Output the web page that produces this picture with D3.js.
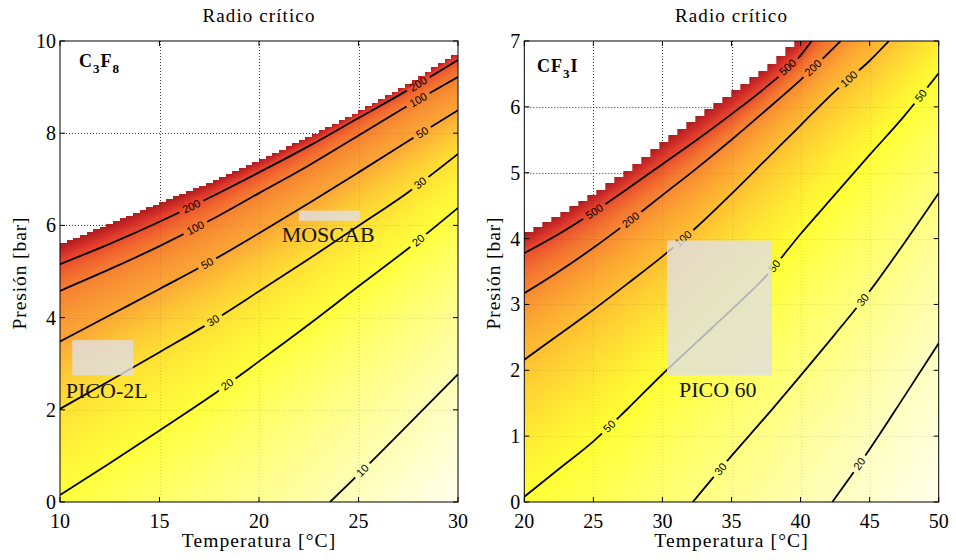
<!DOCTYPE html>
<html><head><meta charset="utf-8">
<script src="https://cdn.jsdelivr.net/npm/d3@7"></script>
<style>body{margin:0;background:#fff}svg{display:block}</style>
</head><body>
<svg id="chart" width="956" height="560"></svg>
<script>
// ---------------- DATA ----------------
const titleText = "Radio crítico";
const xLabelText = "Temperatura [°C]";
const yLabelText = "Presión [bar]";

// C3F8 panel
const c3f8XTicks = [10, 15, 20, 25, 30];
const c3f8YTicks = [0, 2, 4, 6, 8, 10];
const c3f8Levels = [10, 20, 30, 50, 100, 200];
const c3f8Contours = [
  [[23.57,0],[25,0.6],[27.5,1.68],[30,2.77]],
  [[10,0.15],[12.5,0.84],[15,1.55],[17.5,2.27],[20,3.05],[22.5,3.85],[25,4.68],[27.5,5.5],[30,6.38]],
  [[10,2.02],[12.5,2.63],[15,3.25],[17.5,3.88],[20,4.57],[22.5,5.27],[25,5.99],[27.5,6.72],[30,7.55]],
  [[10,3.48],[12.5,4.05],[15,4.62],[17.5,5.2],[20,5.83],[22.5,6.48],[25,7.15],[27.5,7.83],[30,8.5]],
  [[10,4.58],[12.5,5.05],[15,5.55],[17.5,6.1],[20,6.7],[22.5,7.3],[25,7.95],[27.5,8.6],[30,9.22]],
  [[10,5.16],[12.5,5.6],[15,6.08],[17.5,6.6],[20,7.15],[22.5,7.72],[25,8.33],[27.5,8.94],[30,9.59]]
];
const c3f8Boundary = [[10,5.62],[12.5,6.06],[15,6.51],[17.5,6.95],[20,7.44],[22.5,7.95],[25,8.5],[27.5,9.1],[30,9.8]];
const c3f8LabelLevels = [10, 20, 20, 30, 30, 50, 50, 100, 100, 200, 200];
const c3f8LabelT      = [25.2, 18.4, 28.0, 17.7, 28.1, 17.4, 28.2, 16.8, 28.0, 16.6, 28.0];
const c3f8ColorVals = [7, 10, 20, 30, 50, 100, 200, 400, 1000];
const c3f8Colors = ['#fffff2','#ffffb4','#ffff3c','#ffe034','#fba636','#f67e30','#ea4a2c','#d22c28','#b42020'];
const c3f8BoxNames = ['PICO-2L', 'MOSCAB'];
const c3f8BoxT = [[10.62, 13.68], [22.0, 25.08]];
const c3f8BoxP = [[2.75, 3.51], [6.1, 6.32]];
const c3f8BoxLabelAt = [[10.29, 2.26], [21.14, 5.65]];

// CF3I panel
const cf3iXTicks = [20, 25, 30, 35, 40, 45, 50];
const cf3iYTicks = [0, 1, 2, 3, 4, 5, 6, 7];
const cf3iLevels = [20, 30, 50, 100, 200, 500];
const cf3iContours = [
  [[42.3,0],[45,0.8],[47.5,1.6],[50,2.41]],
  [[32.2,0],[35,0.7],[37.5,1.3],[40,1.92],[42.5,2.55],[45,3.2],[47.5,3.93],[50,4.69]],
  [[20,0.08],[22.5,0.5],[25,0.92],[27.5,1.42],[30,1.94],[32.5,2.43],[35,2.92],[37.5,3.43],[40,4.07],[42.5,4.67],[45,5.27],[47.5,5.86],[50,6.51]],
  [[20,2.16],[22.5,2.54],[25,2.92],[27.5,3.32],[30,3.73],[32.5,4.18],[35,4.68],[37.5,5.2],[40,5.72],[42.5,6.24],[45,6.7],[46.4,7.0]],
  [[20,3.17],[22.5,3.5],[25,3.86],[27.5,4.25],[30,4.66],[32.5,5.07],[35,5.5],[37.5,5.95],[40,6.41],[42.9,7.0]],
  [[20,3.78],[22.5,4.07],[25,4.4],[27.5,4.76],[30,5.13],[32.5,5.5],[35,5.89],[37.5,6.3],[40,6.78],[40.8,7.0]]
];
const cf3iBoundary = [[20,4.1],[22.5,4.39],[25,4.71],[27.5,5.08],[30,5.5],[32.5,5.88],[35,6.25],[37.5,6.63],[39.4,7.0]];
const cf3iLabelLevels = [20, 30, 30, 50, 50, 50, 100, 100, 200, 200, 500, 500];
const cf3iLabelT      = [44.26, 34.2, 44.5, 26.15, 38.1, 48.7, 31.5, 43.5, 27.7, 40.9, 25.07, 39.07];
const cf3iColorVals = [14, 20, 30, 50, 100, 200, 500, 1000, 3000];
const cf3iColors = ['#fffff2','#ffffc0','#ffff80','#ffff34','#ffbe32','#f88832','#e84a2c','#d02c28','#b02020'];
const cf3iBoxNames = ['PICO 60'];
const cf3iBoxT = [[30.33, 37.93]];
const cf3iBoxP = [[1.92, 3.97]];
const cf3iBoxLabelAt = [[31.2, 1.59]];

// ---------------- RENDER ----------------
const SERIF = "'Liberation Serif','Times New Roman',serif";
const SANS = "'Liberation Sans','DejaVu Sans',Arial,sans-serif";
const svg = d3.select('#chart');
svg.append('rect').attr('width', 956).attr('height', 560).attr('fill', '#fff');
const defs = svg.append('defs');

function interpLine(pts, t) {
  const n = pts.length;
  let a, b;
  if (t <= pts[0][0]) { a = pts[0]; b = pts[1]; }
  else if (t >= pts[n-1][0]) { a = pts[n-2]; b = pts[n-1]; }
  else { for (let i = 1; i < n; i++) if (t <= pts[i][0]) { a = pts[i-1]; b = pts[i]; break; } }
  return a[1] + (t - a[0]) * (b[1] - a[1]) / (b[0] - a[0]);
}
function valueAt(d, list) {
  const n = list.length;
  if (d >= list[0][1]) return list[0][0] * list[0][1] / d;
  if (d <= list[n-1][1]) return list[n-1][0] * list[n-1][1] / d;
  for (let k = 0; k < n - 1; k++) {
    const [La, da] = list[k], [Lb, db] = list[k+1];
    if (d <= da && d >= db) {
      const f = Math.log(d / da) / Math.log(db / da);
      return Math.exp(Math.log(La) + f * Math.log(Lb / La));
    }
  }
  return list[n-1][0];
}

const panels = [
  { id: 'a', xDom: [10, 30], yDom: [0, 10], xr: [60, 458], yr: [502, 41], nCols: 60,
    xTicks: c3f8XTicks, yTicks: c3f8YTicks, levels: c3f8Levels, contours: c3f8Contours, boundary: c3f8Boundary,
    labLev: c3f8LabelLevels, labT: c3f8LabelT, cVals: c3f8ColorVals, cols: c3f8Colors,
    boxNames: c3f8BoxNames, boxT: c3f8BoxT, boxP: c3f8BoxP, boxLab: c3f8BoxLabelAt,
    chem: [['C',0],['3',1],['F',0],['8',1]], chemX: 79, chemY: 67, yLabX: 25.5 },
  { id: 'b', xDom: [20, 50], yDom: [0, 7], xr: [524.3, 938.7], yr: [502, 41], nCols: 46,
    xTicks: cf3iXTicks, yTicks: cf3iYTicks, levels: cf3iLevels, contours: cf3iContours, boundary: cf3iBoundary,
    labLev: cf3iLabelLevels, labT: cf3iLabelT, cVals: cf3iColorVals, cols: cf3iColors,
    boxNames: cf3iBoxNames, boxT: cf3iBoxT, boxP: cf3iBoxP, boxLab: cf3iBoxLabelAt,
    chem: [['CF',0],['3',1],['I',0]], chemX: 537, chemY: 72, yLabX: 499.5 }
];

panels.forEach(P => {
  const x = d3.scaleLinear().domain(P.xDom).range(P.xr);
  const y = d3.scaleLinear().domain(P.yDom).range(P.yr);
  const x0 = P.xr[0], x1 = P.xr[1], y0 = P.yr[1], y1 = P.yr[0];
  const g = svg.append('g');

  defs.append('clipPath').attr('id', 'clip' + P.id).append('rect')
    .attr('x', x0).attr('y', y0).attr('width', x1 - x0).attr('height', y1 - y0);

  const drawGrid = (stroke, op) => {
    const gg = g.append('g').attr('stroke', stroke).attr('stroke-opacity', op)
      .attr('stroke-width', 1).attr('stroke-dasharray', '1,2');
    P.xTicks.slice(1, -1).forEach(v => gg.append('line')
      .attr('x1', Math.round(x(v)) + 0.5).attr('x2', Math.round(x(v)) + 0.5).attr('y1', y0).attr('y2', y1));
    P.yTicks.slice(1, -1).forEach(v => gg.append('line')
      .attr('y1', Math.round(y(v)) + 0.5).attr('y2', Math.round(y(v)) + 0.5).attr('x1', x0).attr('x2', x1));
  };
  drawGrid('#333', 0.9);

  // ---- field image ----
  const pw = Math.round(x1 - x0), ph = Math.round(y1 - y0);
  const canvas = document.createElement('canvas');
  canvas.width = pw; canvas.height = ph;
  const ctx = canvas.getContext('2d');
  const img = ctx.createImageData(pw, ph);
  const color = d3.scaleLog().domain(P.cVals).range(P.cols).clamp(true);
  const lmin = Math.log10(P.cVals[0]), lmax = Math.log10(P.cVals[P.cVals.length - 1]);
  const LUT = d3.range(1024).map(i => d3.rgb(color(Math.pow(10, lmin + (lmax - lmin) * i / 1023))));
  const dT = (P.xDom[1] - P.xDom[0]) / P.nCols;
  for (let i = 0; i < pw; i++) {
    const t = x.invert(x0 + i + 0.5);
    const pv = interpLine(P.boundary, t);
    const ci = Math.floor((t - P.xDom[0]) / dT);
    const ptop = interpLine(P.boundary, P.xDom[0] + ci * dT);
    const list = []; let prev = Infinity;
    P.levels.forEach((L, k) => {
      const dk = pv - interpLine(P.contours[k], t);
      if (dk > 0 && dk < prev) { list.push([L, dk]); prev = dk; }
    });
    for (let j = 0; j < ph; j++) {
      const p = y.invert(y0 + j + 0.5);
      const idx = (j * pw + i) * 4;
      if (p > ptop) { img.data[idx + 3] = 0; continue; }
      const d = pv - p;
      const r = d <= 1e-6 ? 1e6 : valueAt(d, list);
      let li = Math.round((Math.log10(r) - lmin) / (lmax - lmin) * 1023);
      li = Math.max(0, Math.min(1023, li));
      const c = LUT[li];
      img.data[idx] = c.r; img.data[idx + 1] = c.g; img.data[idx + 2] = c.b; img.data[idx + 3] = 255;
    }
  }
  ctx.putImageData(img, 0, 0);
  g.append('image').attr('x', x0).attr('y', y0).attr('width', pw).attr('height', ph)
    .attr('preserveAspectRatio', 'none').attr('href', canvas.toDataURL());

  drawGrid('#000', 0.13);

  // ---- contour labels geometry ----
  const labs = P.labLev.map((L, i) => {
    const k = P.levels.indexOf(L), t = P.labT[i];
    const p = interpLine(P.contours[k], t);
    const ax = x(t - 0.3), ay = y(interpLine(P.contours[k], t - 0.3));
    const bx = x(t + 0.3), by = y(interpLine(P.contours[k], t + 0.3));
    const ang = Math.atan2(by - ay, bx - ax) * 180 / Math.PI;
    return { txt: String(L), px: x(t), py: y(p), ang };
  });
  const mask = defs.append('mask').attr('id', 'mask' + P.id).attr('maskUnits', 'userSpaceOnUse')
    .attr('x', 0).attr('y', 0).attr('width', 956).attr('height', 560);
  mask.append('rect').attr('x', 0).attr('y', 0).attr('width', 956).attr('height', 560).attr('fill', '#fff');
  labs.forEach(l => {
    const w = l.txt.length * 6.2 + 8;
    mask.append('rect').attr('x', -w / 2).attr('y', -6).attr('width', w).attr('height', 12)
      .attr('fill', '#000').attr('transform', `translate(${l.px},${l.py}) rotate(${l.ang})`);
  });

  const line = d3.line().x(d => x(d[0])).y(d => y(d[1])).curve(d3.curveMonotoneX);
  const cg = g.append('g').attr('clip-path', `url(#clip${P.id})`);
  cg.append('g').attr('mask', `url(#mask${P.id})`).selectAll('path').data(P.contours).join('path')
    .attr('d', line).attr('fill', 'none').attr('stroke', '#000').attr('stroke-width', 1.8);
  cg.selectAll('text.cl').data(labs).join('text').attr('class', 'cl')
    .attr('transform', d => `translate(${d.px},${d.py}) rotate(${d.ang})`)
    .attr('text-anchor', 'middle').attr('dy', '0.35em')
    .attr('font-family', SANS).attr('font-size', 11).attr('fill', '#000').text(d => d.txt);

  // ---- boxes & annotations ----
  P.boxNames.forEach((nm, i) => {
    g.append('rect').attr('x', x(P.boxT[i][0])).attr('y', y(P.boxP[i][1]))
      .attr('width', x(P.boxT[i][1]) - x(P.boxT[i][0])).attr('height', y(P.boxP[i][0]) - y(P.boxP[i][1]))
      .attr('fill', '#e0dfe6').attr('fill-opacity', 0.8);
    g.append('text').attr('x', x(P.boxLab[i][0])).attr('y', y(P.boxLab[i][1]))
      .attr('font-family', SERIF).attr('font-size', 22).attr('fill', '#151515').text(nm);
  });

  // chemical label
  const ct = g.append('text').attr('x', P.chemX).attr('y', P.chemY)
    .attr('font-family', SERIF).attr('font-size', 18).attr('font-weight', 'bold')
    .attr('letter-spacing', 1).attr('fill', '#000');
  let lvl = 0;
  P.chem.forEach(([s, sub]) => {
    const dy = (sub - lvl) * 6; lvl = sub;
    ct.append('tspan').attr('dy', dy).attr('font-size', sub ? 13 : 18).text(s);
  });

  // ---- frame & ticks ----
  const fg = g.append('g').attr('stroke', '#000').attr('stroke-width', 1);
  fg.append('rect').attr('x', x0).attr('y', y0).attr('width', x1 - x0).attr('height', y1 - y0).attr('fill', 'none');
  P.xTicks.forEach(v => {
    fg.append('line').attr('x1', x(v)).attr('x2', x(v)).attr('y1', y1).attr('y2', y1 - 5);
    fg.append('line').attr('x1', x(v)).attr('x2', x(v)).attr('y1', y0).attr('y2', y0 + 5);
  });
  P.yTicks.forEach(v => {
    fg.append('line').attr('y1', y(v)).attr('y2', y(v)).attr('x1', x0).attr('x2', x0 + 5);
    fg.append('line').attr('y1', y(v)).attr('y2', y(v)).attr('x1', x1).attr('x2', x1 - 5);
  });
  g.selectAll('text.xt').data(P.xTicks).join('text').attr('class', 'xt')
    .attr('x', d => x(d)).attr('y', 528).attr('text-anchor', 'middle')
    .attr('font-family', SERIF).attr('font-size', 20).attr('fill', '#000').text(d => d);
  g.selectAll('text.yt').data(P.yTicks).join('text').attr('class', 'yt')
    .attr('x', x0 - 4).attr('y', d => y(d)).attr('dy', '0.35em').attr('text-anchor', 'end')
    .attr('font-family', SERIF).attr('font-size', 20).attr('fill', '#000').text(d => d);

  // titles and axis labels
  const cx = (x0 + x1) / 2;
  g.append('text').attr('x', cx).attr('y', 21.5).attr('text-anchor', 'middle')
    .attr('font-family', SERIF).attr('font-size', 19).attr('letter-spacing', 1.1).text(titleText);
  g.append('text').attr('x', cx).attr('y', 547).attr('text-anchor', 'middle')
    .attr('font-family', SERIF).attr('font-size', 19.5).attr('letter-spacing', 1.1).text(xLabelText);
  g.append('text').attr('transform', `translate(${P.yLabX},273) rotate(-90)`).attr('text-anchor', 'middle')
    .attr('font-family', SERIF).attr('font-size', 19.5).attr('letter-spacing', 0.9).text(yLabelText);
});
</script>
</body></html>
